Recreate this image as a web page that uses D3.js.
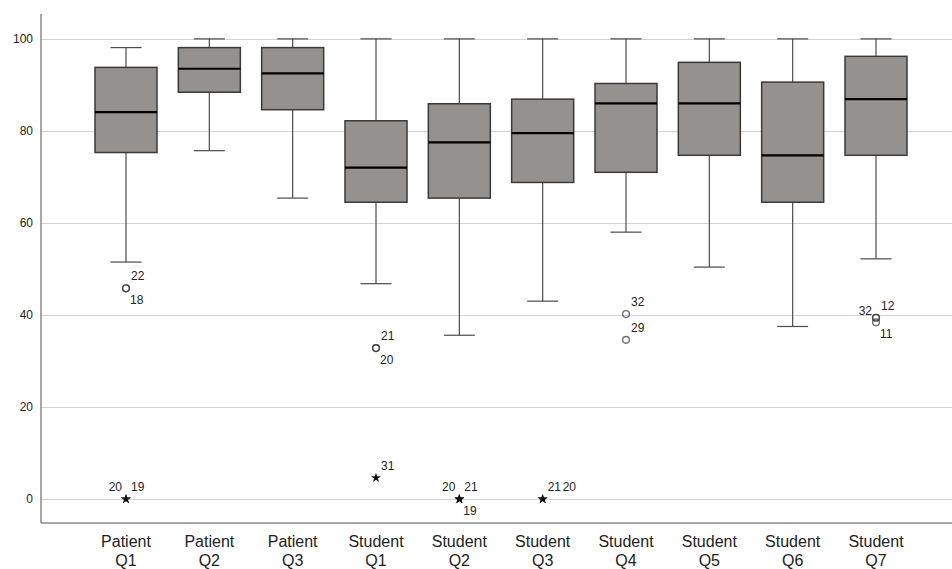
<!DOCTYPE html>
<html>
<head>
<meta charset="utf-8">
<script src="https://cdn.jsdelivr.net/npm/d3@7"></script>
<style>
  body { margin: 0; background: #fff; }
  svg { display: block; font-family: "Liberation Sans", Arial, sans-serif; }
</style>
</head>
<body>
<div id="chart"></div>
<script>
const categories = ["Patient Q1", "Patient Q2", "Patient Q3", "Student Q1", "Student Q2",
  "Student Q3", "Student Q4", "Student Q5", "Student Q6", "Student Q7"];

// five-number summaries
const whiskerLow  = [51.5, 75.7, 65.4, 46.8, 35.6, 43.0, 58.0, 50.4, 37.5, 52.2];
const quartile1   = [75.3, 88.4, 84.6, 64.5, 65.4, 68.8, 71.0, 74.7, 64.5, 74.7];
const medians     = [84.1, 93.5, 92.5, 72.0, 77.5, 79.5, 86.0, 86.0, 74.7, 86.9];
const quartile3   = [93.8, 98.1, 98.1, 82.2, 85.9, 86.9, 90.3, 94.9, 90.6, 96.2];
const whiskerHigh = [98.1, 100, 100, 100, 100, 100, 100, 100, 100, 100];

// outlying cases: category, value, case number, kind (o = outlier, * = extreme)
const outlierCategory = ["Patient Q1", "Patient Q1", "Student Q1", "Student Q1", "Student Q4", "Student Q4",
  "Student Q7", "Student Q7", "Student Q7",
  "Patient Q1", "Patient Q1", "Student Q1", "Student Q2", "Student Q2", "Student Q2", "Student Q3", "Student Q3"];
const outlierValue = [45.8, 45.8, 32.8, 32.8, 40.2, 34.6, 39.4, 39.4, 38.4,
  0, 0, 4.6, 0, 0, 0, 0, 0];
const outlierCase = ["22", "18", "21", "20", "32", "29", "32", "12", "11",
  "20", "19", "31", "20", "21", "19", "21", "20"];
const outlierKind = ["o", "o", "o", "o", "o", "o", "o", "o", "o",
  "*", "*", "*", "*", "*", "*", "*", "*"];
const labelSide = ["ne", "se", "ne", "se", "ne", "ne", "w", "ne", "se",
  "nw", "ne", "ne", "nw", "ne", "se", "ne", "ne2"];

const yTicks = [0, 20, 40, 60, 80, 100];

const width = 952, height = 569;
const svg = d3.select("#chart").append("svg")
  .attr("width", width)
  .attr("height", height);

const plotLeft = 41, plotRight = 952, plotTop = 14, plotBottom = 523;

const x = d3.scalePoint()
  .domain(categories)
  .range([126, 876]);
const y = d3.scaleLinear()
  .domain([-5.2, 105.4])
  .range([plotBottom, plotTop]);

const boxW = 62;

// gridlines
svg.append("g")
  .selectAll("line")
  .data(yTicks)
  .join("line")
    .attr("x1", plotLeft)
    .attr("x2", plotRight)
    .attr("y1", d => Math.round(y(d)) + 0.5)
    .attr("y2", d => Math.round(y(d)) + 0.5)
    .attr("stroke", "#d2d2d2")
    .attr("stroke-width", 1.2);

// y axis labels (no ticks)
const yAxis = svg.append("g")
  .attr("transform", `translate(${plotLeft},0)`)
  .call(d3.axisLeft(y).tickValues(yTicks).tickSize(0).tickPadding(8));
yAxis.select(".domain").remove();
yAxis.selectAll("text")
  .attr("font-size", 12)
  .attr("font-family", "Liberation Sans, Arial, sans-serif")
  .attr("fill", "#222");

// axis frame
svg.append("line")
  .attr("x1", plotLeft).attr("x2", plotLeft)
  .attr("y1", plotTop).attr("y2", plotBottom)
  .attr("stroke", "#8a8a8a").attr("stroke-width", 1.5);
svg.append("line")
  .attr("x1", plotLeft).attr("x2", plotRight)
  .attr("y1", plotBottom).attr("y2", plotBottom)
  .attr("stroke", "#8a8a8a").attr("stroke-width", 1.5);

// boxes
const boxes = svg.append("g")
  .selectAll("g")
  .data(categories.map((c, i) => ({
    cat: c, lo: whiskerLow[i], q1: quartile1[i], med: medians[i], q3: quartile3[i], hi: whiskerHigh[i]
  })))
  .join("g")
    .attr("transform", d => `translate(${x(d.cat)},0)`);

boxes.append("line")
  .attr("y1", d => y(d.hi)).attr("y2", d => y(d.q3))
  .attr("stroke", "#4a4a4a").attr("stroke-width", 1.2);
boxes.append("line")
  .attr("y1", d => y(d.q1)).attr("y2", d => y(d.lo))
  .attr("stroke", "#4a4a4a").attr("stroke-width", 1.2);
boxes.append("line")
  .attr("x1", -boxW / 4).attr("x2", boxW / 4)
  .attr("y1", d => y(d.hi)).attr("y2", d => y(d.hi))
  .attr("stroke", "#4a4a4a").attr("stroke-width", 1.2);
boxes.append("line")
  .attr("x1", -boxW / 4).attr("x2", boxW / 4)
  .attr("y1", d => y(d.lo)).attr("y2", d => y(d.lo))
  .attr("stroke", "#4a4a4a").attr("stroke-width", 1.2);
boxes.append("rect")
  .attr("x", -boxW / 2)
  .attr("width", boxW)
  .attr("y", d => y(d.q3))
  .attr("height", d => y(d.q1) - y(d.q3))
  .attr("fill", "#95918f")
  .attr("stroke", "#3a3a3a")
  .attr("stroke-width", 1.5);
boxes.append("line")
  .attr("x1", -boxW / 2).attr("x2", boxW / 2)
  .attr("y1", d => y(d.med)).attr("y2", d => y(d.med))
  .attr("stroke", "#000").attr("stroke-width", 2.2);

// outliers
const pts = outlierCategory.map((c, i) => ({
  cat: c, v: outlierValue[i], id: outlierCase[i], kind: outlierKind[i], side: labelSide[i]
}));

const ptG = svg.append("g");
ptG.selectAll("circle")
  .data(pts.filter(d => d.kind === "o"))
  .join("circle")
    .attr("cx", d => x(d.cat))
    .attr("cy", d => y(d.v))
    .attr("r", 3.4)
    .attr("fill", "none")
    .attr("stroke", "#333")
    .attr("stroke-opacity", 0.7)
    .attr("stroke-width", 1.4);

const star = d3.symbol().type(d3.symbolStar).size(30);
ptG.selectAll("path")
  .data(pts.filter(d => d.kind === "*"))
  .join("path")
    .attr("transform", d => `translate(${x(d.cat)},${y(d.v)})`)
    .attr("d", star)
    .attr("fill", "#111");

const sideOffset = {
  ne:  { dx: 5,  dy: -8, anchor: "start" },
  ne2: { dx: 20, dy: -8, anchor: "start" },
  se:  { dx: 4,  dy: 16, anchor: "start" },
  nw:  { dx: -4, dy: -8, anchor: "end" },
  w:   { dx: -4, dy: -3, anchor: "end" }
};

ptG.selectAll("text")
  .data(pts)
  .join("text")
    .attr("x", d => x(d.cat) + sideOffset[d.side].dx)
    .attr("y", d => y(d.v) + sideOffset[d.side].dy)
    .attr("text-anchor", d => sideOffset[d.side].anchor)
    .attr("font-size", 12)
    .attr("fill", "#222")
    .text(d => d.id);

// x category labels, two lines
const xl = svg.append("g")
  .selectAll("text")
  .data(categories)
  .join("text")
    .attr("x", d => x(d))
    .attr("y", 547)
    .attr("text-anchor", "middle")
    .attr("font-size", 16)
    .attr("fill", "#222");
xl.append("tspan")
  .attr("x", d => x(d))
  .text(d => d.split(" ")[0]);
xl.append("tspan")
  .attr("x", d => x(d))
  .attr("dy", 18.5)
  .text(d => d.split(" ")[1]);
</script>
</body>
</html>
